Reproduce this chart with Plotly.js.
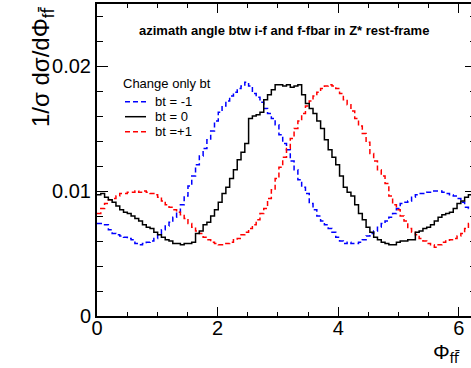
<!DOCTYPE html>
<html>
<head>
<meta charset="utf-8">
<script src="https://cdn.plot.ly/plotly-3.0.1.min.js"></script>
<style>
html,body{margin:0;padding:0;overflow:hidden;background:#fff;}
#chart{width:480px;height:368px;}
</style>
</head>
<body>
<div id="chart"></div>
<script>
// ---- data ----
const phiMin = 0;
const phiMax = 2 * Math.PI;
const nBins = 100;
const seriesNames = ["bt = -1", "bt = 0", "bt =+1"];
const seriesColors = ["#0000ff", "#000000", "#ff0000"];

const hBtMinus1 = [
0.0074,0.0074,0.0073,0.0069,0.0066,0.0065,0.0064,0.0063,0.0062,0.0061,
0.0058,0.0057,0.0058,0.0059,0.0060,0.0062,0.0065,0.0069,0.0072,0.0075,
0.0079,0.0083,0.0089,0.0096,0.0104,0.0112,0.0121,0.0128,0.0134,0.0141,
0.0148,0.0156,0.0163,0.0168,0.0172,0.0176,0.0179,0.0182,0.0184,0.0187,
0.0184,0.0178,0.0175,0.0171,0.0166,0.0162,0.0158,0.0153,0.0145,0.0138,
0.0133,0.0124,0.0117,0.0109,0.0103,0.0098,0.0090,0.0085,0.0080,0.0076,
0.0073,0.0070,0.0067,0.0063,0.0060,0.0058,0.0059,0.0058,0.0058,0.0059,
0.0061,0.0064,0.0066,0.0068,0.0071,0.0074,0.0076,0.0079,0.0082,0.0086,
0.0090,0.0091,0.0092,0.0095,0.0097,0.0098,0.0098,0.0099,0.0100,0.0100,
0.0100,0.0099,0.0098,0.0097,0.0096,0.0094,0.0091,0.0087,0.0086,0.0086];

const hBt0 = [
0.0097,0.0098,0.0095,0.0093,0.0091,0.0088,0.0085,0.0083,0.0082,0.0080,
0.0078,0.0076,0.0073,0.0071,0.0070,0.0067,0.0065,0.0063,0.0061,0.0060,
0.0058,0.0058,0.0057,0.0058,0.0058,0.0059,0.0066,0.0068,0.0073,0.0075,
0.0080,0.0085,0.0091,0.0098,0.0103,0.0110,0.0117,0.0125,0.0131,0.0138,
0.0158,0.0160,0.0161,0.0163,0.0173,0.0177,0.0181,0.0185,0.0185,0.0184,
0.0185,0.0183,0.0184,0.0185,0.0177,0.0170,0.0166,0.0162,0.0156,0.0150,
0.0141,0.0133,0.0127,0.0121,0.0112,0.0103,0.0099,0.0096,0.0089,0.0082,
0.0077,0.0071,0.0067,0.0063,0.0061,0.0059,0.0058,0.0057,0.0057,0.0059,
0.0060,0.0060,0.0061,0.0061,0.0067,0.0068,0.0070,0.0071,0.0073,0.0076,
0.0079,0.0081,0.0082,0.0083,0.0086,0.0090,0.0092,0.0095,0.0097,0.0099];

const hBtPlus1 = [
0.0082,0.0086,0.0090,0.0093,0.0094,0.0096,0.0098,0.0098,0.0099,0.0099,
0.0100,0.0099,0.0100,0.0099,0.0098,0.0097,0.0095,0.0092,0.0089,0.0087,
0.0085,0.0083,0.0081,0.0078,0.0074,0.0071,0.0068,0.0066,0.0063,0.0061,
0.0059,0.0058,0.0057,0.0057,0.0058,0.0059,0.0061,0.0062,0.0065,0.0067,
0.0070,0.0073,0.0077,0.0082,0.0086,0.0094,0.0101,0.0110,0.0119,0.0127,
0.0134,0.0142,0.0150,0.0156,0.0162,0.0168,0.0172,0.0176,0.0179,0.0182,
0.0184,0.0185,0.0184,0.0182,0.0178,0.0173,0.0169,0.0164,0.0158,0.0152,
0.0146,0.0139,0.0130,0.0124,0.0117,0.0112,0.0106,0.0096,0.0089,0.0085,
0.0080,0.0076,0.0070,0.0067,0.0065,0.0062,0.0060,0.0058,0.0057,0.0055,
0.0057,0.0059,0.0060,0.0061,0.0062,0.0064,0.0066,0.0070,0.0074,0.0077];

const xTickVals = [0, 2, 4, 6];
const xTickText = ["0", "2", "4", "6"];
const yTickVals = [0, 0.01, 0.02];
const yTickText = ["0", "0.01", "0.02"];

// ---- build step histograms ----
const binW = (phiMax - phiMin) / nBins;
function stepTrace(vals, name, color, dash) {
  const xs = [], ys = [];
  for (let i = 0; i < vals.length; i++) { xs.push(phiMin + i * binW); ys.push(vals[i]); }
  xs.push(phiMax); ys.push(vals[vals.length - 1]);
  return {
    type: "scatter", mode: "lines", x: xs, y: ys, name: name,
    line: {shape: "hv", color: color, width: 1.5, dash: dash},
    showlegend: false, hoverinfo: "skip"
  };
}
const dashStyle = "5px,3px";
const traces = [
  stepTrace(hBtMinus1, seriesNames[0], seriesColors[0], dashStyle),
  stepTrace(hBtPlus1, seriesNames[2], seriesColors[2], dashStyle),
  stepTrace(hBt0, seriesNames[1], seriesColors[1], "solid")
];

// ---- layout ----
const W = 480, H = 368;
const M = {l: 97, r: 4, t: 4, b: 52};
const pw = W - M.l - M.r, ph = H - M.t - M.b;
const PX = p => (p - M.l) / pw;
const PY = p => (H - M.b - p) / ph;
const FONT = "Liberation Sans, Arial, Helvetica, sans-serif";
const SUB_FFBAR = "<sub>f<span style='font-family:DejaVu Sans'>f\u0304</span></sub>";

const annotations = [
  {text: "<b>azimath angle btw i-f and f-fbar in Z* rest-frame</b>", xref: "paper", yref: "paper",
   x: PX(284), y: PY(30), xanchor: "center", yanchor: "middle", showarrow: false,
   font: {family: FONT, size: 13, color: "#000"}},
  {text: "1/σ dσ/dΦ" + SUB_FFBAR, xref: "paper", yref: "paper", textangle: -90,
   x: PX(25), y: PY(4), xanchor: "left", yanchor: "top", showarrow: false,
   font: {family: FONT, size: 24, color: "#000"}},
  {text: "Φ" + SUB_FFBAR, xref: "paper", yref: "paper",
   x: PX(462), y: PY(338), xanchor: "right", yanchor: "top", showarrow: false,
   font: {family: FONT, size: 21, color: "#000"}},
  {text: "Change only bt", xref: "paper", yref: "paper",
   x: PX(121), y: PY(83), xanchor: "left", yanchor: "middle", showarrow: false,
   font: {family: FONT, size: 13, color: "#000"}}
];
const shapes = [];
const legRows = [101.7, 116.7, 131.7];
const legOrder = [0, 1, 2];
legOrder.forEach((k, r) => {
  shapes.push({type: "line", xref: "paper", yref: "paper",
    x0: PX(125), x1: PX(146), y0: PY(legRows[r]), y1: PY(legRows[r]),
    line: {color: seriesColors[k], width: 1.5, dash: k === 1 ? "solid" : dashStyle}});
  annotations.push({text: seriesNames[k], xref: "paper", yref: "paper",
    x: PX(153), y: PY(legRows[r]), xanchor: "left", yanchor: "middle", showarrow: false,
    font: {family: FONT, size: 13, color: "#000"}});
});

const layout = {
  width: W, height: H, margin: M,
  paper_bgcolor: "#fff", plot_bgcolor: "#fff",
  font: {family: FONT, color: "#000"},
  showlegend: false,
  xaxis: {
    range: [phiMin, phiMax], tickvals: xTickVals, ticktext: xTickText,
    ticks: "inside", ticklen: 9, tickwidth: 1, tickcolor: "#000",
    minor: {dtick: 0.5, tick0: 0, ticks: "inside", ticklen: 4, tickwidth: 1, tickcolor: "#000"},
    showline: true, linewidth: 2, linecolor: "#000", mirror: "allticks",
    showgrid: false, zeroline: false, tickfont: {family: FONT, size: 20, color: "#000"},
    ticklabelstandoff: -7
  },
  yaxis: {
    range: [0, 0.02496], tickvals: yTickVals, ticktext: yTickText,
    ticks: "inside", ticklen: 11, tickwidth: 1, tickcolor: "#000",
    minor: {dtick: 0.002, tick0: 0, ticks: "inside", ticklen: 6, tickwidth: 1, tickcolor: "#000"},
    showline: true, linewidth: 2, linecolor: "#000", mirror: "allticks",
    showgrid: false, zeroline: false, tickfont: {family: FONT, size: 20, color: "#000"},
    ticklabelstandoff: 0
  },
  annotations: annotations,
  shapes: shapes
};

Plotly.newPlot("chart", traces, layout, {staticPlot: true, displayModeBar: false});
</script>
</body>
</html>
